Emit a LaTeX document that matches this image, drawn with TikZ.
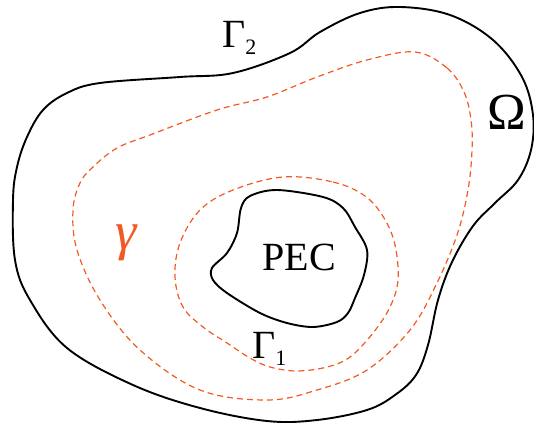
\documentclass[tikz,border=0pt]{standalone}
\usepackage{fontspec}
\setmainfont{Liberation Serif}
\definecolor{gorange}{HTML}{F15A24}
\begin{document}
\begin{tikzpicture}[x=1pt,y=-1pt,
  solidline/.style={draw=black,line width=1.9pt,line join=round},
  dashline/.style={draw=gorange,line width=1.2pt,dash pattern=on 6pt off 4pt},
  lbl/.style={inner sep=0pt,font=\fontsize{40}{40}\selectfont}]
\useasboundingbox (0,0) rectangle (534,427);
% outer boundary Gamma_2
\draw[solidline] plot[smooth cycle,tension=0.6] coordinates {
 (400,7) (450,15) (493,40) (522,77) (533,115) (531,150) (518,180) (495,203)
 (473,226) (452,262) (438,300) (428,345) (416,375) (395,395) (367,410)
 (317,420) (267,421) (200,408) (133,385) (67,348) (30,300) (15,260)
 (13,200) (17,167) (27,137) (43,110) (67,93) (100,83) (180,77) (233,73)
 (290,53) (320,32) (360,13)};
% outer dashed gamma
\draw[dashline] plot[smooth cycle,tension=0.6] coordinates {
 (415,52) (447,68) (464,92) (471,120) (472,150) (468,190) (457,235)
 (436,285) (410,330) (367,370) (317,390) (267,400) (200,390) (140,350)
 (100,300) (77,250) (73,210) (80,183) (93,167) (117,148) (150,135)
 (217,110) (267,97) (317,77) (367,60)};
% inner dashed
\draw[dashline] plot[smooth cycle,tension=0.6] coordinates {
 (283,177) (333,182) (365,196) (384,218) (395,245) (398,280) (390,307)
 (373,333) (350,357) (327,367) (297,371) (270,367) (250,358) (227,343)
 (203,327) (183,307) (175,277) (180,243) (200,210) (233,190)};
% PEC
\draw[solidline] plot[smooth cycle,tension=0.55] coordinates {
 (250,196) (277,190) (323,197) (343,208) (355,227) (367,250) (364,275)
 (355,298) (348,313) (337,322) (313,327) (287,323) (260,313) (227,293)
 (213,280) (212,268) (227,253) (237,233) (241,208)};
% labels
\node[lbl,anchor=base] (pec) at (299,270) {PEC};
\node[lbl,anchor=base west] (g2) at (222,48) {Γ\raisebox{-7pt}{\fontsize{22}{22}\selectfont 2}};
\node[lbl,anchor=base west] (g1) at (252,358) {Γ\raisebox{-7pt}{\fontsize{22}{22}\selectfont 1}};
\node[inner sep=0pt,font=\fontsize{52}{52}\selectfont,anchor=base] (om) at (507,130) {Ω};
\node[inner sep=0pt,font=\fontsize{54}{54}\selectfont\itshape,text=gorange] (ga) at (126,243) {γ};
\end{tikzpicture}
\end{document}
